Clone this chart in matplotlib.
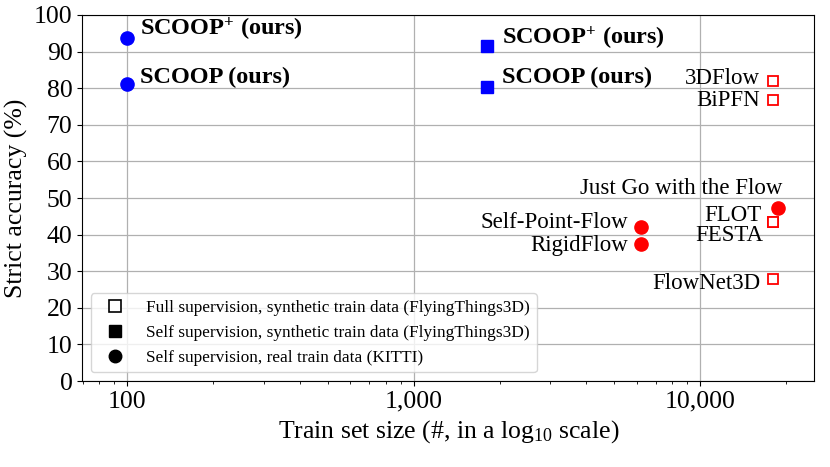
import matplotlib
matplotlib.use('Agg')
import matplotlib.pyplot as plt
from matplotlib.lines import Line2D
from matplotlib.ticker import FuncFormatter, LogLocator, NullFormatter

plt.rcParams['font.family'] = ['Liberation Serif', 'DejaVu Serif']
plt.rcParams['mathtext.fontset'] = 'custom'
plt.rcParams['mathtext.rm'] = 'Liberation Serif'
plt.rcParams['mathtext.it'] = 'Liberation Serif:italic'
plt.rcParams['mathtext.bf'] = 'Liberation Serif:bold'

# full supervision, synthetic data (open red squares)
full_names = ['3DFlow', 'BiPFN', 'FLOT', 'FESTA', 'FlowNet3D']
full_size = [18000, 18000, 18000, 18000, 18000]
full_acc = [82.0, 76.8, 43.4, 43.5, 27.8]

# self supervision, synthetic data (blue squares)
selfsyn_names = ['SCOOP$^\\mathbf{+}$ (ours)', 'SCOOP (ours)']
selfsyn_size = [1800, 1800]
selfsyn_acc = [91.4, 80.2]

# self supervision, real data (circles)
real_names = ['SCOOP$^\\mathbf{+}$ (ours)', 'SCOOP (ours)', 'Just Go with the Flow',
              'Self-Point-Flow', 'RigidFlow']
real_size = [100, 100, 18700, 6200, 6200]
real_acc = [93.6, 81.1, 47.4, 42.2, 37.5]
real_colors = ['blue', 'blue', 'red', 'red', 'red']

legend_labels = ['Full supervision, synthetic train data (FlyingThings3D)',
                 'Self supervision, synthetic train data (FlyingThings3D)',
                 'Self supervision, real train data (KITTI)']

fig = plt.figure(figsize=(8.3, 4.67), dpi=100)
ax = fig.add_axes([0.099, 0.184, 0.882, 0.784])

ax.plot(full_size, full_acc, 's', ms=7.5, mfc='white', mec='red', mew=1.3, ls='none', zorder=3)
ax.plot(selfsyn_size, selfsyn_acc, 's', ms=8, color='blue', ls='none', zorder=3)
for s, a, c in zip(real_size, real_acc, real_colors):
    ax.plot(s, a, 'o', ms=9.5, color=c, zorder=3)

# label offsets in pixels (dx, dy, horizontal alignment)
full_off = [(-13, 2.5, 'right'), (-13, -1, 'right'), (-12, 7, 'right'),
            (-10, -14, 'right'), (-13, -4, 'right')]
selfsyn_off = [(15, 8, 'left'), (15, 10, 'left')]
real_off = [(13, 9, 'left'), (13, 7, 'left'), (4, 19, 'right'),
            (-13, 4, 'right'), (-13, -2, 'right')]

for n, s, a, o in zip(full_names, full_size, full_acc, full_off):
    ax.annotate(n, (s, a), xytext=(o[0], o[1]), textcoords='offset pixels',
                ha=o[2], va='center', fontsize=16.5)
for n, s, a, o in zip(selfsyn_names, selfsyn_size, selfsyn_acc, selfsyn_off):
    ax.annotate(n, (s, a), xytext=(o[0], o[1]), textcoords='offset pixels',
                ha=o[2], va='center', fontsize=17.5, fontweight='bold')
for i, (n, s, a, o) in enumerate(zip(real_names, real_size, real_acc, real_off)):
    if i < 2:
        ax.annotate(n, (s, a), xytext=(o[0], o[1]), textcoords='offset pixels',
                    ha=o[2], va='center', fontsize=17.5, fontweight='bold')
    else:
        ax.annotate(n, (s, a), xytext=(o[0], o[1]), textcoords='offset pixels',
                    ha=o[2], va='center', fontsize=16.5)

ax.set_xscale('log')
ax.set_xlim(69.6, 25000)
ax.set_ylim(0, 100)
ax.set_yticks(range(0, 101, 10))
ax.xaxis.set_major_locator(LogLocator(base=10))
ax.xaxis.set_minor_locator(LogLocator(base=10, subs=range(2, 10)))
ax.xaxis.set_major_formatter(FuncFormatter(lambda v, p: '{:,}'.format(int(round(v)))))
ax.xaxis.set_minor_formatter(NullFormatter())
ax.tick_params(axis='both', which='major', labelsize=18.5)
ax.grid(True, which='major', color='#b0b0b0', lw=0.9)
ax.set_axisbelow(True)

ax.set_xlabel('Train set size (#, in a log$_{10}$ scale)', fontsize=18.5)
ax.set_ylabel('Strict accuracy (%)', fontsize=18.5)

handles = [Line2D([], [], marker='s', ls='none', mfc='white', mec='black', mew=1.2, ms=8),
           Line2D([], [], marker='s', ls='none', color='black', ms=8),
           Line2D([], [], marker='o', ls='none', color='black', ms=9)]
ax.legend(handles, legend_labels, loc='lower left', fontsize=12.4)

fig.savefig('out.png', dpi=100)
